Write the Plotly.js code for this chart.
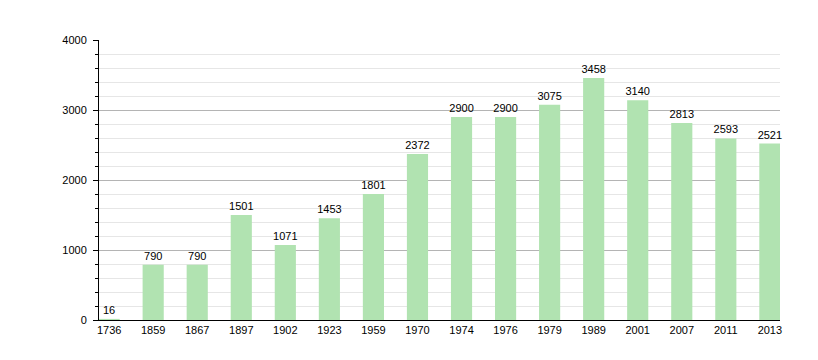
<!DOCTYPE html>
<html><head><meta charset="utf-8">
<script src="https://cdn.plot.ly/plotly-3.0.1.min.js"></script>
<style>html,body{margin:0;padding:0;background:#fff}</style>
</head><body>
<div id="chart" style="width:818px;height:360px"></div>
<script>
const years = ["1736","1859","1867","1897","1902","1923","1959","1970","1974","1976","1979","1989","2001","2007","2011","2013"];
const population = [16,790,790,1501,1071,1453,1801,2372,2900,2900,3075,3458,3140,2813,2593,2521];

const trace = {
  type: 'bar',
  x: years,
  y: population,
  text: population.map(String),
  textposition: 'outside',
  constraintext: 'none',
  cliponaxis: false,
  textfont: {family: 'Liberation Sans, Arial, sans-serif', size: 11, color: 'rgb(0,0,0)'},
  outsidetextfont: {family: 'Liberation Sans, Arial, sans-serif', size: 11, color: 'rgb(0,0,0)'},
  insidetextfont: {family: 'Liberation Sans, Arial, sans-serif', size: 11, color: 'rgb(0,0,0)'},
  marker: {color: '#b1e3b1', line: {width: 0}},
  width: 0.48,
  hoverinfo: 'x+y'
};

const layout = {
  width: 818, height: 360,
  margin: {l: 99, r: 38, t: 40, b: 40},
  paper_bgcolor: '#fff', plot_bgcolor: '#fff',
  font: {family: 'Liberation Sans, Arial, sans-serif', size: 11, color: '#000'},
  showlegend: false,
  uniformtext: {mode: false},
  xaxis: {
    type: 'category',
    range: [-0.23, 15.23],
    showline: true, linecolor: '#000', linewidth: 1,
    ticks: '', showgrid: false, zeroline: false,
    tickfont: {size: 11, color: '#000'},
    fixedrange: true
  },
  yaxis: {
    range: [0, 4000],
    dtick: 1000,
    showline: true, linecolor: '#000', linewidth: 1,
    ticks: 'outside', ticklen: 5, tickcolor: '#000',
    ticklabelstandoff: 4,
    showgrid: true, gridcolor: '#b4b4b4', gridwidth: 1,
    zeroline: false,
    tickfont: {size: 11, color: '#000'},
    minor: {dtick: 200, ticks: 'outside', ticklen: 3, tickcolor: '#000', showgrid: true, gridcolor: '#e6e6e6', gridwidth: 1},
    fixedrange: true
  },
  bargap: 0.5
};

Plotly.newPlot('chart', [trace], layout, {displayModeBar: false, staticPlot: true});
</script>
</body></html>
